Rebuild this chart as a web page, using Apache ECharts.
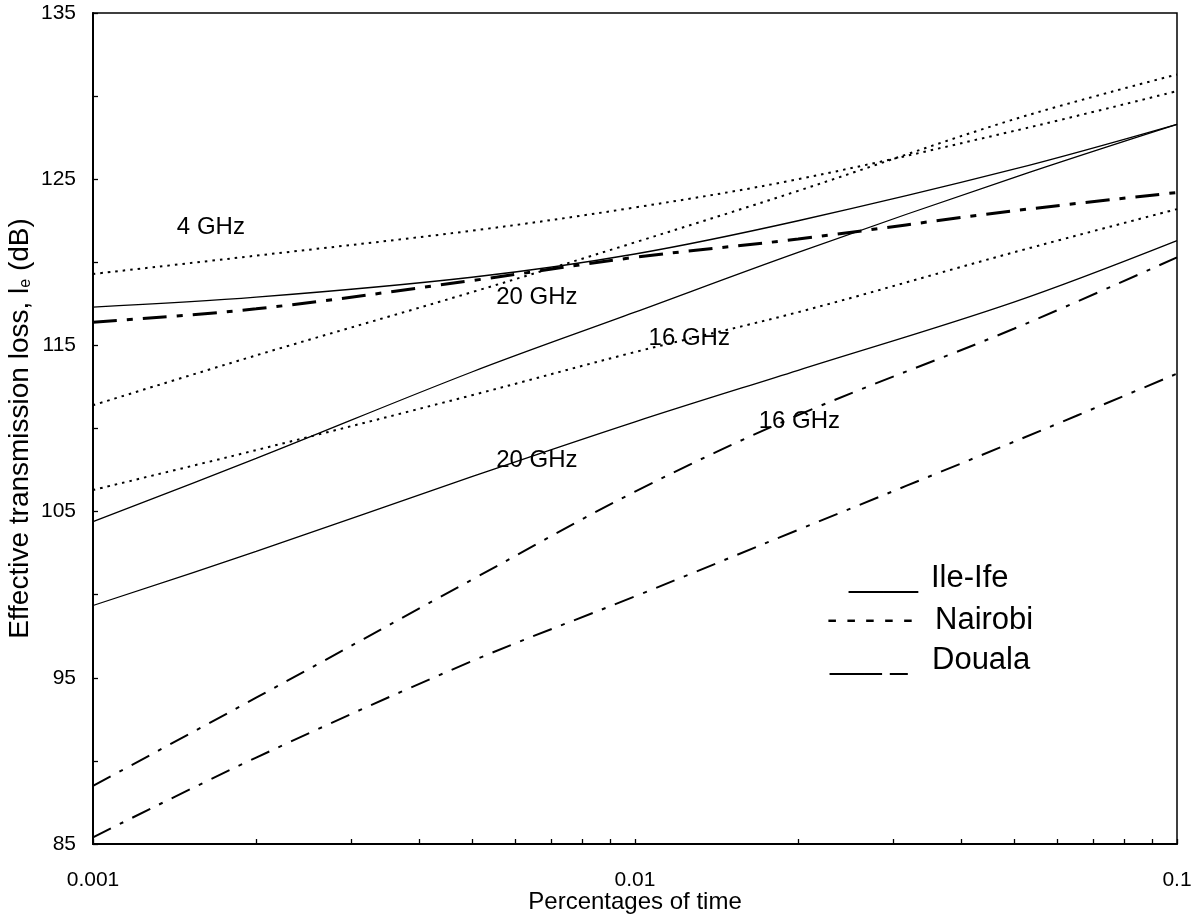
<!DOCTYPE html>
<html><head><meta charset="utf-8">
<script src="https://cdn.jsdelivr.net/npm/echarts@6/dist/echarts.min.js"></script>
<style>html,body{margin:0;padding:0;background:#fff}#c{width:1200px;height:915px}</style>
</head><body><div id="c"></div>
<script>
// ---- data ----
const percentTime = [0.001, 0.002, 0.005, 0.01, 0.02, 0.05, 0.1];
// Ile-Ife (solid)
const ileIfe4GHz  = [117.3, 117.9, 119.1, 120.5, 122.5, 125.6, 128.3];
const ileIfe16GHz = [104.4, 108.2, 113.4, 117.0, 120.6, 125.1, 128.3];
const ileIfe20GHz = [99.35, 102.6, 107.1, 110.4, 113.5, 117.6, 121.3];
// Nairobi (dotted)
const nairobi4GHz  = [119.3, 120.4, 121.9, 123.3, 125.0, 127.9, 130.3];
const nairobi20GHz = [111.4, 114.4, 118.2, 121.2, 124.3, 128.6, 131.3];
const nairobi16GHz = [106.3, 108.7, 112.0, 114.6, 117.0, 120.6, 123.2];
// Douala (dash-dot)
const douala4GHz  = [116.4, 117.2, 118.9, 120.3, 121.4, 123.1, 124.2];
const douala16GHz = [88.5, 93.8, 100.9, 106.2, 110.8, 116.0, 120.3];
const douala20GHz = [85.4, 90.2, 96.0, 99.9, 103.9, 109.2, 113.3];

const xTickValues = [0.001,0.002,0.003,0.004,0.005,0.006,0.007,0.008,0.009,
                     0.01,0.02,0.03,0.04,0.05,0.06,0.07,0.08,0.09,0.1];
const xLabelValues = [0.001, 0.01, 0.1];
const yLabelValues = [85, 95, 105, 115, 125, 135];

const annotations = [
  {text: '4 GHz',  x: 0.00165, y: 122.1},
  {text: '20 GHz', x: 0.00659, y: 117.9},
  {text: '16 GHz', x: 0.01259, y: 115.4},
  {text: '16 GHz', x: 0.0201,  y: 110.4},
  {text: '20 GHz', x: 0.00659, y: 108.1}
];
const legendRows = [
  {sample: '____',      label: 'Ile-Ife'},
  {sample: '- - - - -', label: 'Nairobi'},
  {sample: '___ _',     label: 'Douala'}
];

// ---- chart ----
const FONT = "'Liberation Sans', Arial, sans-serif";
const pair = arr => percentTime.map((x, i) => [x, arr[i]]);

function mk(name, arr, style) {
  return {
    name, type: 'line', data: pair(arr), symbol: 'none', smooth: 0.35,
    lineStyle: Object.assign({color: '#000', width: 1.3, type: 'solid'}, style),
    silent: true
  };
}
const dotStyle = {width: 2, type: [2.5, 5]};
const series = [
  mk('Ile-Ife 4 GHz', ileIfe4GHz, {}),
  mk('Ile-Ife 16 GHz', ileIfe16GHz, {}),
  mk('Ile-Ife 20 GHz', ileIfe20GHz, {}),
  mk('Nairobi 4 GHz', nairobi4GHz, dotStyle),
  mk('Nairobi 20 GHz', nairobi20GHz, dotStyle),
  mk('Nairobi 16 GHz', nairobi16GHz, dotStyle),
  mk('Douala 4 GHz', douala4GHz, {width: 3, type: [24, 10, 6, 10]}),
  mk('Douala 16 GHz', douala16GHz, {width: 2, type: [20, 10, 4, 10]}),
  mk('Douala 20 GHz', douala20GHz, {width: 2, type: [20, 10, 4, 10]})
];

const chart = echarts.init(document.getElementById('c'), null, {renderer: 'canvas'});
const option = {
  animation: false,
  backgroundColor: '#fff',
  textStyle: {fontFamily: FONT, color: '#000'},
  grid: {left: 93, right: 23, top: 13, bottom: 71, show: true, borderColor: '#000', borderWidth: 1.5,
         containLabel: false, outerBoundsMode: 'none'},
  xAxis: {
    type: 'log', logBase: 10, min: 0.001, max: 0.1,
    name: 'Percentages of time', nameLocation: 'middle', nameGap: 46, nameMoveOverlap: false,
    nameTextStyle: {fontSize: 24, color: '#000', fontFamily: FONT},
    axisLine: {show: true, lineStyle: {color: '#000', width: 2}},
    axisTick: {show: true, inside: true, length: 5, lineStyle: {color: '#000', width: 1.3}, customValues: xTickValues},
    axisLabel: {fontSize: 21, color: '#000', margin: 26, fontFamily: FONT, customValues: xLabelValues,
                formatter: v => String(+v.toPrecision(3))},
    splitLine: {show: false}, minorTick: {show: false}
  },
  yAxis: {
    type: 'value', min: 85, max: 135, interval: 5,
    name: 'Effective transmission loss, l{s|e} (dB)', nameLocation: 'middle', nameGap: 59, nameMoveOverlap: false,
    nameTextStyle: {fontSize: 28, color: '#000', fontFamily: FONT,
      rich: {s: {fontSize: 16, fontFamily: FONT, color: '#000', verticalAlign: 'bottom', padding: [11, 0, 0, 0]}}},
    axisLine: {show: true, lineStyle: {color: '#000', width: 2}},
    axisTick: {show: true, inside: true, length: 5, lineStyle: {color: '#000', width: 1.3}},
    axisLabel: {fontSize: 21, color: '#000', margin: 17, fontFamily: FONT,
                formatter: v => (yLabelValues.indexOf(v) >= 0 ? String(v) : '')},
    splitLine: {show: false}
  },
  series
};
chart.setOption(option);

// annotations placed at data coordinates, legend as text block
const graphics = annotations.map(a => {
  const p = chart.convertToPixel({gridIndex: 0}, [a.x, a.y]);
  return {type: 'text', x: p[0], y: p[1], silent: true, z: 10,
    style: {text: a.text, fill: '#000', font: '24px ' + FONT, textAlign: 'center', textVerticalAlign: 'middle'}};
});
const legSampleX = [849, 827, 830];
const legLabelX = [931, 935, 932];
const legY = [578, 620, 660];
legendRows.forEach((r, i) => {
  graphics.push({type: 'text', x: legSampleX[i], y: legY[i], silent: true, z: 10,
    style: {text: r.sample, fill: '#000', font: '31px ' + FONT, textAlign: 'left', textVerticalAlign: 'middle'}});
  graphics.push({type: 'text', x: legLabelX[i], y: legY[i], silent: true, z: 10,
    style: {text: r.label, fill: '#000', font: '31px ' + FONT, textAlign: 'left', textVerticalAlign: 'middle'}});
});
chart.setOption({graphic: graphics});
</script></body></html>
